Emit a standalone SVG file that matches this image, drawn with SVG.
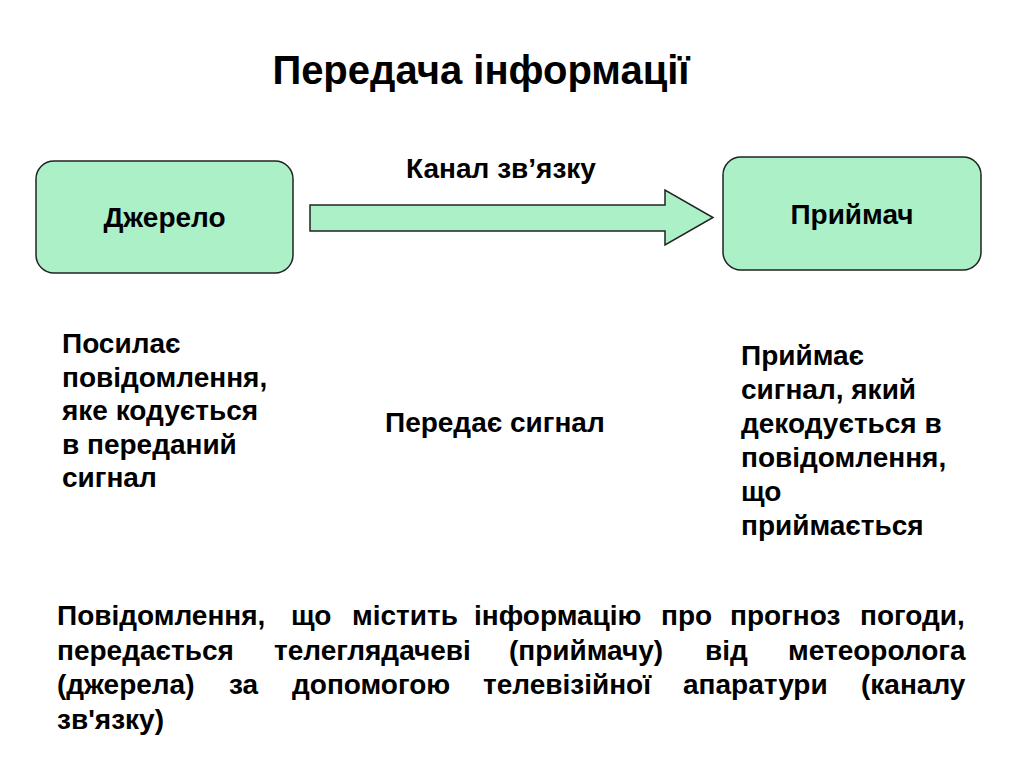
<svg xmlns="http://www.w3.org/2000/svg" width="1024" height="767" viewBox="0 0 1024 767">
<style>
text{font-family:"Liberation Sans",Arial,sans-serif;font-weight:bold;fill:#000}
.t{font-size:28px}
.title{font-size:40px}
.box{fill:#acf0c8;stroke:#222;stroke-width:1.5}
</style>
<rect width="1024" height="767" fill="#fff"/>
<text class="title" x="481" y="84" text-anchor="middle">Передача інформації</text>
<g id="connectors">
<polygon class="box" points="310,205 665,205 665,190 713,217.5 665,245 665,231 310,231"/>
<text class="t" x="501" y="178" text-anchor="middle">Канал зв’язку</text>
</g>
<g id="source">
<rect class="box" x="36" y="161" width="257" height="112" rx="18"/>
<text class="t" x="164.5" y="227" text-anchor="middle">Джерело</text>
</g>
<g id="receiver">
<rect class="box" x="723" y="157" width="258" height="113" rx="18"/>
<text class="t" x="852" y="224" text-anchor="middle">Приймач</text>
</g>
<g id="source-desc">
<text class="t" x="62" y="353"><tspan x="62" y="353">Посилає</tspan><tspan x="62" y="386.5">повідомлення,</tspan><tspan x="62" y="420">яке кодується</tspan><tspan x="62" y="453.5">в переданий</tspan><tspan x="62" y="487">сигнал</tspan></text>
</g>
<g id="channel-desc">
<text class="t" x="385" y="432">Передає сигнал</text>
</g>
<g id="receiver-desc">
<text class="t" x="741" y="365"><tspan x="741" y="365">Приймає</tspan><tspan x="741" y="399">сигнал, який</tspan><tspan x="741" y="433">декодується в</tspan><tspan x="741" y="467">повідомлення,</tspan><tspan x="741" y="501">що</tspan><tspan x="741" y="535">приймається</tspan></text>
</g>
<g id="example">
<text class="t" y="625"><tspan x="57">Повідомлення,</tspan><tspan x="291">що</tspan><tspan x="352">містить</tspan><tspan x="474">інформацію</tspan><tspan x="661">про</tspan><tspan x="730">прогноз</tspan><tspan x="860">погоди,</tspan></text>
<text class="t" y="659.5"><tspan x="57">передається</tspan><tspan x="274">телеглядачеві</tspan><tspan x="509">(приймачу)</tspan><tspan x="705">від</tspan><tspan x="788">метеоролога</tspan></text>
<text class="t" y="694"><tspan x="57">(джерела)</tspan><tspan x="229">за</tspan><tspan x="292">допомогою</tspan><tspan x="483">телевізійної</tspan><tspan x="683">апаратури</tspan><tspan x="861">(каналу</tspan></text>
<text class="t" x="57" y="728.5">зв'язку)</text>
</g>
</svg>
